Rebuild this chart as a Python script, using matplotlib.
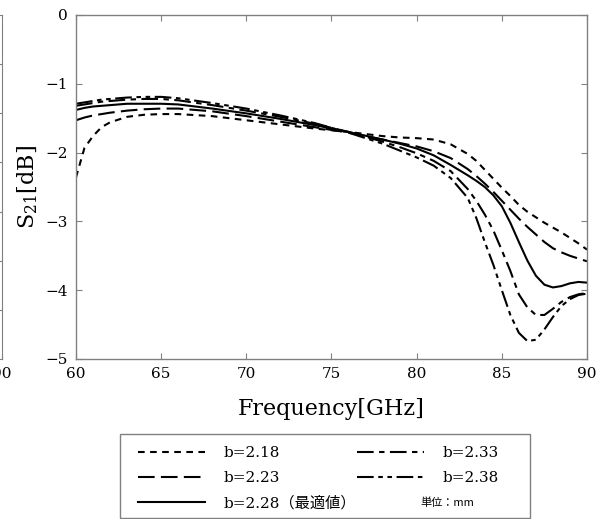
import numpy as np
import matplotlib
matplotlib.use('Agg')
import matplotlib.pyplot as plt
from matplotlib.patches import Rectangle

plt.rcParams['font.family'] = ['DejaVu Serif', 'Noto Sans CJK JP']
plt.rcParams['mathtext.fontset'] = 'dejavuserif'

# frequency points [GHz]
freq = [60, 60.5, 61, 61.5, 62, 63, 64, 65, 66, 68, 70, 72, 74, 76, 78, 79, 80,
        81, 82, 83, 83.5, 84, 84.5, 85, 85.5, 86, 86.5, 87, 87.5, 88, 88.5, 89, 89.5, 90]

# S21 [dB]
s21_218 = [-2.36, -1.93, -1.76, -1.63, -1.56, -1.48, -1.45, -1.44, -1.44, -1.47, -1.53,
           -1.59, -1.65, -1.70, -1.76, -1.78, -1.79, -1.81, -1.88, -2.02, -2.12, -2.25,
           -2.38, -2.51, -2.63, -2.76, -2.86, -2.94, -3.02, -3.09, -3.16, -3.24, -3.32, -3.41]
s21_223 = [-1.53, -1.49, -1.46, -1.44, -1.42, -1.39, -1.37, -1.36, -1.36, -1.40, -1.47,
           -1.55, -1.63, -1.71, -1.81, -1.86, -1.91, -1.98, -2.08, -2.24, -2.34, -2.45,
           -2.57, -2.70, -2.83, -2.96, -3.08, -3.19, -3.30, -3.39, -3.45, -3.50, -3.54, -3.58]
s21_228 = [-1.38, -1.35, -1.33, -1.32, -1.31, -1.29, -1.29, -1.29, -1.30, -1.36, -1.43,
           -1.51, -1.60, -1.70, -1.81, -1.87, -1.94, -2.04, -2.18, -2.33, -2.41, -2.50,
           -2.62, -2.78, -3.02, -3.30, -3.57, -3.79, -3.92, -3.96, -3.94, -3.90, -3.88, -3.89]
s21_233 = [-1.32, -1.30, -1.28, -1.26, -1.25, -1.23, -1.22, -1.22, -1.24, -1.31, -1.39,
           -1.48, -1.58, -1.70, -1.84, -1.92, -2.01, -2.12, -2.27, -2.53, -2.70, -2.90,
           -3.13, -3.42, -3.72, -4.06, -4.25, -4.36, -4.36, -4.27, -4.17, -4.10, -4.06, -4.04]
s21_238 = [-1.29, -1.27, -1.25, -1.23, -1.22, -1.20, -1.19, -1.19, -1.21, -1.28, -1.36,
           -1.46, -1.57, -1.71, -1.87, -1.97, -2.07, -2.19, -2.37, -2.66, -2.95, -3.30,
           -3.63, -4.00, -4.36, -4.62, -4.74, -4.72, -4.57, -4.39, -4.23, -4.13, -4.07, -4.05]

labels = ['b=2.18', 'b=2.23', 'b=2.28（最適値）', 'b=2.33', 'b=2.38']
series = [s21_218, s21_223, s21_228, s21_233, s21_238]
styles = [(0, (3.2, 2.6)),
          (0, (8, 3)),
          '-',
          (0, (8, 2.6, 2.6, 2.6)),
          (0, (8, 2.2, 2.2, 2.2, 2.2, 2.2))]

W, H = 603, 519
fig = plt.figure(figsize=(W / 100, H / 100), dpi=100)
frame_col = '#808080'

# partial neighbouring panel cut by the left edge
axl = fig.add_axes([-0.8, 1 - 359 / H, 0.8 + 2 / W, (359 - 15) / H])
axl.set_xlim(60, 90)
axl.set_ylim(-7, 0)
axl.set_xticks([90])
axl.set_yticks(np.arange(-6, 0))
axl.tick_params(direction='in', right=True, left=False, labelleft=False,
                color=frame_col, labelsize=11, length=4, pad=6)
for sp in axl.spines.values():
    sp.set_color(frame_col)

ax = fig.add_axes([76 / W, 1 - 359 / H, (587 - 76) / W, (359 - 15) / H])
lines = []
for y, ls, lab in zip(series, styles, labels):
    ln, = ax.plot(freq, y, color='black', lw=1.5, linestyle=ls, label=lab)
    lines.append(ln)

ax.set_xlim(60, 90)
ax.set_ylim(-5, 0)
ax.set_xticks(np.arange(60, 91, 5))
ax.set_yticks(np.arange(-5, 1, 1))
ax.set_yticklabels(['\u22125', '\u22124', '\u22123', '\u22122', '\u22121', '0'])
ax.tick_params(direction='in', top=True, right=True, color=frame_col,
               labelsize=11, length=4, pad=6)
for sp in ax.spines.values():
    sp.set_color(frame_col)
    sp.set_linewidth(1.0)

ax.set_xlabel('Frequency[GHz]', fontsize=16, labelpad=12)
ax.set_ylabel('S$_{21}$[dB]', fontsize=16, labelpad=4)

# legend box
fig.patches.append(Rectangle((120 / W, 1 - 518 / H), (530 - 120) / W, (518 - 434) / H,
                             transform=fig.transFigure, fill=False,
                             edgecolor=frame_col, lw=1.0))
fig.legend(handles=lines, labels=labels, ncol=2, loc='upper left',
           bbox_to_anchor=(126 / W, 1 - 434 / H), frameon=False, fontsize=11,
           handlelength=4.4, handletextpad=1.2, columnspacing=0.05,
           labelspacing=0.7, borderpad=0.3)
fig.text(447 / W, 1 - 503 / H, '単位：mm', fontsize=8, ha='center', va='center',
         family=['Noto Sans CJK JP'])

fig.savefig('out.png', dpi=100)
